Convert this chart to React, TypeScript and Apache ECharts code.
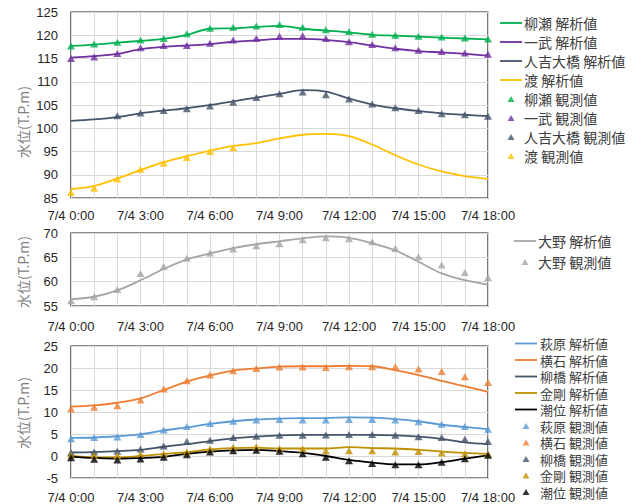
import React, { useEffect, useRef } from 'react';
import * as echarts from 'echarts';

const hours = [0, 1, 2, 3, 4, 5, 6, 7, 8, 9, 10, 11, 12, 13, 14, 15, 16, 17, 18];
const dateLabel = '7/4';

// top panel
const yanaseCalc = [117.7, 118.0, 118.4, 118.8, 119.2, 120.1, 121.4, 121.5, 121.8, 122.0, 121.4, 121.0, 120.6, 120.1, 119.9, 119.7, 119.5, 119.3, 119.1];
const yanaseObs = [117.7, 118.1, 118.5, 119.0, 119.3, 120.3, 121.5, 121.7, 122.0, 122.3, 121.7, 121.2, 120.8, 120.2, 120.0, 119.8, 119.6, 119.4, 119.2];
const ichibuCalc = [115.2, 115.5, 116.0, 117.0, 117.5, 117.8, 118.1, 118.6, 118.9, 119.2, 119.2, 119.0, 118.5, 117.8, 117.1, 116.6, 116.3, 116.0, 115.6];
const ichibuObs = [115.0, 115.3, 116.1, 117.3, 117.8, 117.8, 118.3, 119.0, 119.3, 119.8, 119.9, 119.3, 118.6, 118.0, 117.3, 116.8, 116.5, 116.2, 115.9];
const hitoyoshiCalc = [101.6, 101.9, 102.4, 103.2, 103.8, 104.3, 105.0, 105.8, 106.6, 107.4, 108.2, 107.9, 106.4, 105.1, 104.3, 103.7, 103.2, 102.9, 102.6];
const hitoyoshiObsHours = [2, 3, 4, 5, 6, 7, 8, 9, 10, 11, 12, 13, 14, 15, 16, 17, 18];
const hitoyoshiObs = [102.7, 103.3, 103.8, 104.2, 104.8, 105.6, 106.6, 107.4, 107.8, 107.2, 106.3, 105.2, 104.4, 103.8, 103.1, 102.9, 102.6];
const wataruCalc = [86.9, 87.6, 89.2, 91.0, 92.7, 94.0, 95.2, 96.2, 96.8, 97.8, 98.6, 98.8, 98.3, 96.5, 94.2, 92.2, 90.7, 89.7, 89.1];
const wataruObsHours = [0, 1, 2, 3, 4, 5, 6, 7];
const wataruObs = [86.2, 87.1, 89.1, 91.2, 92.5, 93.7, 95.0, 95.8];

// middle panel
const onoCalc = [56.4, 56.9, 58.2, 60.3, 62.6, 64.6, 65.8, 66.9, 67.7, 68.3, 68.9, 69.3, 69.0, 67.9, 66.4, 64.1, 61.7, 60.3, 59.4];
const onoObs = [56.1, 56.9, 58.4, 61.7, 63.1, 64.8, 65.9, 66.7, 67.4, 67.8, 68.6, 69.0, 68.8, 68.2, 66.8, 65.1, 63.4, 61.9, 60.8];

// bottom panel
const hagiwaraCalc = [4.1, 4.2, 4.5, 4.9, 5.8, 6.5, 7.3, 7.9, 8.3, 8.5, 8.6, 8.6, 8.8, 8.7, 8.4, 7.9, 7.1, 6.6, 6.1];
const hagiwaraObs = [3.9, 4.2, 4.3, 4.9, 5.9, 6.7, 7.4, 7.9, 8.2, 8.3, 8.2, 8.2, 8.3, 8.3, 8.2, 7.8, 7.2, 6.7, 6.1];
const yokoishiCalc = [11.2, 11.5, 12.1, 13.1, 15.0, 16.9, 18.3, 19.4, 19.9, 20.3, 20.4, 20.4, 20.5, 20.4, 19.5, 18.4, 17.1, 15.8, 14.6];
const yokoishiObs = [10.7, 11.1, 11.4, 12.7, 15.2, 17.1, 18.4, 19.4, 19.9, 20.2, 20.2, 20.1, 20.3, 20.3, 20.3, 19.8, 19.2, 18.0, 16.7];
const yanagibashiCalc = [0.8, 0.9, 1.1, 1.4, 2.1, 2.7, 3.4, 4.0, 4.4, 4.7, 4.8, 4.8, 4.8, 4.8, 4.7, 4.4, 3.9, 3.1, 2.7];
const yanagibashiObs = [0.75, 0.9, 1.1, 1.6, 2.3, 3.3, 3.6, 4.2, 4.5, 4.7, 4.7, 4.8, 4.9, 4.9, 4.7, 4.4, 4.2, 3.8, 3.3];
const kongoCalc = [0.0, -0.3, -0.3, 0.0, 0.5, 0.9, 1.5, 1.8, 1.9, 1.7, 1.7, 1.7, 2.0, 1.8, 1.7, 1.4, 1.0, 0.7, 0.5];
const kongoObs = [0.2, 0.1, 0.1, 0.45, 0.5, 0.9, 1.6, 2.0, 2.1, 1.7, 1.6, 1.2, 1.2, 1.2, 0.9, 1.0, 0.7, 0.5, 0.5];
const shioCalc = [-0.2, -0.45, -0.6, -0.45, -0.2, 0.5, 1.0, 1.3, 1.4, 1.1, 0.7, 0.0, -0.9, -1.5, -1.9, -1.9, -1.4, -0.6, 0.15];
const shioObs = [-0.4, -0.75, -0.9, -0.7, -0.3, 0.3, 0.9, 1.2, 1.3, 1.1, 0.5, -0.3, -1.1, -1.7, -2.0, -2.0, -1.4, -0.6, 0.15];

const yRanges = [
  { min: 85, max: 125, interval: 5 },
  { min: 55, max: 70, interval: 5 },
  { min: -5, max: 25, interval: 5 },
];
const yAxisName = '水位(T.P.m)';

const pairs = (xs: number[], ys: number[]) => ys.map((v, i) => [xs[i], v]);

export default function App() {
  const ref = useRef<HTMLDivElement>(null);
  useEffect(() => {
    const chart = echarts.init(ref.current!, null, { renderer: 'svg' });
    const numFont = 'Liberation Sans, Arial, sans-serif';
    const cjkFont = '"Noto Sans CJK JP", sans-serif';
    const grids = [
      { left: 71, top: 12, width: 417, height: 186 },
      { left: 71, top: 233, width: 417, height: 73 },
      { left: 71, top: 346, width: 417, height: 132 },
    ].map((g) => ({ ...g, show: true, borderColor: '#1a1a1a', borderWidth: 1.2, backgroundColor: 'transparent' }));
    const xMargins = [11, 14, 13];
    const xAxes = grids.map((_, i) => ({
      type: 'value',
      gridIndex: i,
      min: 0,
      max: 18,
      interval: 1,
      axisLine: { show: false },
      axisTick: { show: false },
      splitLine: { show: true, lineStyle: { color: '#d9d9d9', width: 1 } },
      axisLabel: {
        margin: xMargins[i],
        fontSize: 13,
        fontFamily: numFont,
        color: '#262626',
        formatter: (v: number) => (v % 3 === 0 ? `${dateLabel} ${v}:00` : ''),
      },
    }));
    const yAxes = yRanges.map((r, i) => ({
      type: 'value',
      gridIndex: i,
      min: r.min,
      max: r.max,
      interval: r.interval,
      axisLine: { show: false },
      axisTick: { show: false },
      splitLine: { show: true, lineStyle: { color: '#d9d9d9', width: 1 } },
      axisLabel: { margin: 13, fontSize: 13, fontFamily: numFont, color: '#262626' },
    }));

    const line = (name: string, color: string, ys: number[], gi: number) => ({
      name,
      type: 'line',
      xAxisIndex: gi,
      yAxisIndex: gi,
      data: pairs(hours, ys),
      smooth: 0.35,
      symbol: 'none',
      lineStyle: { color, width: 1.8 },
      itemStyle: { color },
      z: 2,
    });
    const obs = (name: string, color: string, xs: number[], ys: number[], gi: number) => ({
      name,
      type: 'scatter',
      xAxisIndex: gi,
      yAxisIndex: gi,
      data: pairs(xs, ys),
      symbol: 'triangle',
      symbolSize: [8, 7],
      itemStyle: { color },
      z: 3,
    });

    const C = {
      yanase: '#00B050',
      ichibu: '#7030A0',
      hitoyoshi: '#44546A',
      wataru: '#FFC000',
      ono: '#A5A5A5',
      hagiwara: '#5B9BD5',
      yokoishi: '#ED7D31',
      yanagibashi: '#44546A',
      kongo: '#BF9000',
      shio: '#000000',
    };

    const series: any[] = [
      line('柳瀬 解析値', C.yanase, yanaseCalc, 0),
      line('一武 解析値', C.ichibu, ichibuCalc, 0),
      line('人吉大橋 解析値', C.hitoyoshi, hitoyoshiCalc, 0),
      line('渡 解析値', C.wataru, wataruCalc, 0),
      obs('柳瀬 観測値', C.yanase, hours, yanaseObs, 0),
      obs('一武 観測値', C.ichibu, hours, ichibuObs, 0),
      obs('人吉大橋 観測値', C.hitoyoshi, hitoyoshiObsHours, hitoyoshiObs, 0),
      obs('渡 観測値', C.wataru, wataruObsHours, wataruObs, 0),
      line('大野 解析値', C.ono, onoCalc, 1),
      obs('大野 観測値', C.ono, hours, onoObs, 1),
      line('萩原 解析値', C.hagiwara, hagiwaraCalc, 2),
      line('横石 解析値', C.yokoishi, yokoishiCalc, 2),
      line('柳橋 解析値', C.yanagibashi, yanagibashiCalc, 2),
      line('金剛 解析値', C.kongo, kongoCalc, 2),
      line('潮位 解析値', C.shio, shioCalc, 2),
      obs('萩原 観測値', C.hagiwara, hours, hagiwaraObs, 2),
      obs('横石 観測値', C.yokoishi, hours, yokoishiObs, 2),
      obs('柳橋 観測値', C.yanagibashi, hours, yanagibashiObs, 2),
      obs('金剛 観測値', C.kongo, hours, kongoObs, 2),
      obs('潮位 観測値', C.shio, hours, shioObs, 2),
    ];

    // icons padded with moveTo points so the bounding box is the full 22x6 item box
    const lineIcon = 'path://M0,0M22,6M0,2.1H22V3.9H0Z';
    const triIcon = 'path://M0,0M22,6M7.5,6L11,0L14.5,6Z';
    const legendItem = (s: any) => ({
      name: s.name,
      icon: s.type === 'line' ? lineIcon : triIcon,
    });

    const legendBase = {
      orient: 'vertical',
      itemWidth: 22,
      itemHeight: 6,
      selectedMode: false,
      padding: 0,
    };
    const legends = [
      {
        ...legendBase, left: 500, top: 16, itemGap: 5,
        textStyle: { fontSize: 14, fontFamily: cjkFont, color: '#404040', padding: [0, 0, 0, -3] },
        data: series.slice(0, 8).map(legendItem),
      },
      {
        ...legendBase, left: 514, top: 234, itemGap: 7,
        textStyle: { fontSize: 14, fontFamily: cjkFont, color: '#404040', padding: [0, 0, 0, -3] },
        data: series.slice(8, 10).map(legendItem),
      },
      {
        ...legendBase, left: 515, top: 337, itemGap: 3.5,
        textStyle: { fontSize: 13, fontFamily: cjkFont, color: '#404040', padding: [0, 0, 0, -2] },
        data: series.slice(10).map(legendItem),
      },
    ];

    const nameCenters = [122, 272, 413];
    const graphic = nameCenters.map((cy) => ({
      type: 'text',
      x: 23,
      y: cy,
      rotation: Math.PI / 2,
      style: {
        text: yAxisName,
        fontSize: 14,
        fontFamily: cjkFont,
        fill: '#7f7f7f',
        align: 'center',
        verticalAlign: 'middle',
      },
    }));

    chart.setOption({
      animation: false,
      backgroundColor: '#ffffff',
      grid: grids,
      xAxis: xAxes,
      yAxis: yAxes,
      legend: legends,
      graphic,
      series,
    });
    return () => chart.dispose();
  }, []);
  return <div ref={ref} style={{ position: 'absolute', left: 0, top: 0, width: 639, height: 504 }} />;
}
